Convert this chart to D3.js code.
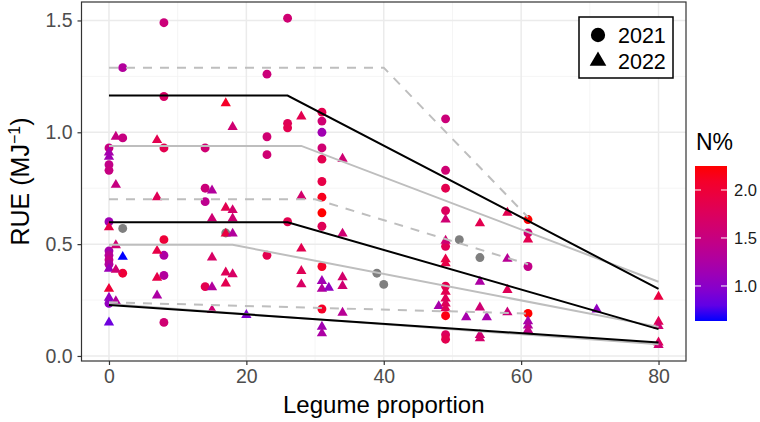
<!DOCTYPE html>
<html lang="en">
<head>
  <meta charset="UTF-8">
  <title>RUE vs legume proportion</title>
  <style>
    body { margin: 0; background: #fff; }
    svg { display: block; font-family: "Liberation Sans", Arial, Helvetica, sans-serif; }
    .grid-major { stroke: #ebebeb; stroke-width: 1.5; }
    .grid-minor { stroke: #f2f2f2; stroke-width: 0.8; }
    .tick-label { fill: #4d4d4d; font-size: 19.5px; }
    .title { fill: #000; font-size: 24px; }
  </style>
</head>
<body>
  <script src="https://d3js.org/d3.v7.min.js"></script>
  <svg id="chart" width="760" height="422"></svg>
  <script>
    // points: [legume %, RUE, N%] ; null N = grey (missing)
    const pts2021 = [
      [0, 0.93, 1.5], [0, 0.855, 1.45], [0, 0.83, 1.5], [0, 0.60, 1.15], [0, 0.47, 1.2],
      [0, 0.45, 1.35], [0, 0.43, 1.45], [0, 0.41, 1.3], [0, 0.235, 1.05],
      [2, 1.289, 1.3], [2, 0.975, 1.5], [2, 0.57, null], [2, 0.37, 2.0],
      [8, 1.49, 1.55], [8, 1.16, 1.7], [8, 0.93, 1.85], [8, 0.52, 2.0], [8, 0.45, 1.25],
      [8, 0.36, 1.3], [8, 0.15, 1.6],
      [14, 0.93, 1.6], [14, 0.75, 1.55], [14, 0.69, 1.4], [14, 0.31, 1.85],
      [17, 0.55, null],
      [23, 1.26, 1.55], [23, 0.98, 1.6], [23, 0.90, 1.6], [23, 0.45, 1.85],
      [26, 1.51, 1.6], [26, 1.04, 1.8], [26, 1.02, 1.85], [26, 0.60, 1.85],
      [31, 1.09, 1.85], [31, 1.05, 1.6], [31, 1.0, 1.15], [31, 0.93, 1.6], [31, 0.88, 1.85],
      [31, 0.78, 1.9], [31, 0.71, 2.15], [31, 0.64, 2.25], [31, 0.58, 1.8], [31, 0.40, 2.1],
      [31, 0.21, 2.1],
      [39, 0.37, null], [40, 0.32, null],
      [49, 1.06, 1.55], [49, 0.83, 1.6], [49, 0.75, 1.85], [49, 0.65, 1.75], [49, 0.49, 1.8],
      [49, 0.3125, 1.85], [49, 0.18, 2.2], [49, 0.095, 1.75], [49, 0.075, 1.85],
      [51, 0.52, null], [54, 0.44, null],
      [61, 0.61, 2.25], [61, 0.55, 1.6], [61, 0.40, 1.45], [61, 0.19, 2.25]
    ]
    const pts2022 = [
      [0, 0.91, 1.2], [0, 0.89, 1.15], [0, 0.575, 1.9], [0, 0.39, 1.1], [0, 0.30, 2.0],
      [0, 0.26, 1.05], [0, 0.15, 0.85],
      [1, 0.98, 1.5], [1, 0.765, 1.5], [1, 0.495, 1.6], [1, 0.385, 1.6], [1, 0.245, 1.3],
      [2, 0.443, 0.62],
      [7, 0.965, 1.85], [7, 0.71, 1.8], [7, 0.47, 1.9], [7, 0.35, 1.9], [7, 0.27, 1.25],
      [15, 0.74, 1.3], [15, 0.614, 1.6], [15, 0.44, 1.7], [15, 0.307, 1.3], [15, 0.205, 1.6],
      [17, 1.13, 2.1], [17, 0.663, 1.85], [17, 0.547, 1.95], [17, 0.373, 1.8], [17, 0.324, 1.85],
      [18, 1.024, 1.6], [18, 0.652, 1.65], [18, 0.615, 1.6], [18, 0.547, 1.3], [18, 0.365, 1.7],
      [20, 0.183, 0.95],
      [28, 1.071, 1.85], [28, 0.714, 1.65], [28, 0.48, 1.85], [28, 0.38, 1.8], [28, 0.32, 1.7],
      [31, 0.335, 1.15], [31, 0.30, 1.3], [31, 0.131, 1.15], [31, 0.101, 1.25],
      [32, 0.305, 1.05],
      [34, 0.882, 1.6], [34, 0.547, 1.6], [34, 0.352, 1.65], [34, 0.3125, 1.6], [34, 0.193, 1.35],
      [48, 0.223, 1.2],
      [49, 0.61, 1.6], [49, 0.515, 1.6], [49, 0.432, 1.9], [49, 0.414, 1.9], [49, 0.287, 1.85],
      [49, 0.257, 1.8], [49, 0.235, 1.75], [49, 0.213, 1.8],
      [52, 0.173, 1.2],
      [54, 0.593, 1.85], [54, 0.332, 1.25], [54, 0.217, 1.6], [54, 0.094, 1.6], [54, 0.079, 1.65],
      [55, 0.173, 1.2],
      [58, 0.64, 1.85], [58, 0.434, 1.35], [58, 0.295, 1.8], [58, 0.195, 1.55],
      [61, 0.521, 1.85], [61, 0.155, 1.2], [61, 0.136, 1.3], [61, 0.116, 1.45],
      [71, 0.208, 1.05],
      [80, 0.265, 1.95], [80, 0.153, 1.8], [80, 0.134, 1.6], [80, 0.06, 1.8], [80, 0.049, 1.6]
    ]

    // fitted segmented lines (legume %, RUE) : both years (black), 2022 (grey), 2021 (grey dashed)
    const fitBoth = [
      [[0, 1.164], [26, 1.164], [80, 0.30]],
      [[0, 0.598], [26, 0.598], [80, 0.12]],
      [[0, 0.228], [80, 0.06]]
    ]
    const fit2022 = [
      [[0, 0.939], [28, 0.939], [80, 0.332]],
      [[0, 0.497], [18, 0.497], [80, 0.13]],
      [[0, 0.232], [80, 0.052]]
    ]
    const fit2021 = [
      [[0, 1.289], [40, 1.289], [61, 0.62]],
      [[0, 0.701], [30, 0.701], [61, 0.41]],
      [[0, 0.24], [61, 0.19]]
    ]

    const xTicks = [0, 20, 40, 60, 80]
    const yTicks = [0, 0.5, 1.0, 1.5]
    const nTicks = [1.0, 1.5, 2.0]
    const nRange = [0.635, 2.25]
    const years = ['2021', '2022']

    const svg = d3.select('#chart')
    const panel = { left: 81.5, right: 686, top: 2, bottom: 361 }

    const x = d3.scaleLinear().domain([-4, 84]).range([panel.left, panel.right])
    const y = d3.scaleLinear().domain([-0.0225, 1.5825]).range([panel.bottom, panel.top])
    const color = d3.scaleLinear().domain(nRange).range(['#0000ff', '#ff0000'])
      .interpolate(d3.interpolateLab).clamp(true)

    // grid
    const g = svg.append('g')
    const xMinor = d3.range(10, 80, 20)
    const yMinor = [0.25, 0.75, 1.25]
    g.selectAll('.xmin').data(xMinor).enter().append('line')
      .attr('class', 'grid-minor')
      .attr('x1', d => x(d)).attr('x2', d => x(d))
      .attr('y1', panel.top).attr('y2', panel.bottom)
    g.selectAll('.ymin').data(yMinor).enter().append('line')
      .attr('class', 'grid-minor')
      .attr('y1', d => y(d)).attr('y2', d => y(d))
      .attr('x1', panel.left).attr('x2', panel.right)
    g.selectAll('.xmaj').data(xTicks).enter().append('line')
      .attr('class', 'grid-major')
      .attr('x1', d => x(d)).attr('x2', d => x(d))
      .attr('y1', panel.top).attr('y2', panel.bottom)
    g.selectAll('.ymaj').data(yTicks).enter().append('line')
      .attr('class', 'grid-major')
      .attr('y1', d => y(d)).attr('y2', d => y(d))
      .attr('x1', panel.left).attr('x2', panel.right)

    // points
    const circleSym = d3.symbol().type(d3.symbolCircle).size(62)
    const triSym = d3.symbol().type(d3.symbolTriangle).size(46)
    const fillOf = d => d[2] == null ? '#7f7f7f' : color(d[2])

    g.selectAll('.p21').data(pts2021).enter().append('path')
      .attr('d', circleSym)
      .attr('transform', d => `translate(${x(d[0])},${y(d[1])})`)
      .attr('fill', fillOf)
    g.selectAll('.p22').data(pts2022).enter().append('path')
      .attr('d', triSym)
      .attr('transform', d => `translate(${x(d[0])},${y(d[1])})`)
      .attr('fill', fillOf)

    // fitted lines
    const line = d3.line().x(d => x(d[0])).y(d => y(d[1]))
    g.selectAll('.f21').data(fit2021).enter().append('path')
      .attr('d', line).attr('fill', 'none')
      .attr('stroke', '#bebebe').attr('stroke-width', 2).attr('stroke-dasharray', '9,8')
    g.selectAll('.f22').data(fit2022).enter().append('path')
      .attr('d', line).attr('fill', 'none')
      .attr('stroke', '#bebebe').attr('stroke-width', 2)
    g.selectAll('.fb').data(fitBoth).enter().append('path')
      .attr('d', line).attr('fill', 'none')
      .attr('stroke', '#000').attr('stroke-width', 2)

    // panel border
    svg.append('rect')
      .attr('x', panel.left).attr('y', panel.top)
      .attr('width', panel.right - panel.left).attr('height', panel.bottom - panel.top)
      .attr('fill', 'none').attr('stroke', '#333').attr('stroke-width', 1.2)

    // axes
    const xAxis = svg.append('g').attr('transform', `translate(0,${panel.bottom})`)
      .call(d3.axisBottom(x).tickValues(xTicks).tickSize(4).tickPadding(4))
    const yAxis = svg.append('g').attr('transform', `translate(${panel.left},0)`)
      .call(d3.axisLeft(y).tickValues(yTicks).tickFormat(d3.format('.1f')).tickSize(4).tickPadding(5))
    for (let ax of [xAxis, yAxis]) {
      ax.attr('font-family', null).attr('font-size', null)
      ax.select('.domain').remove()
      ax.selectAll('line').attr('stroke', '#333').attr('stroke-width', 1.2)
      ax.selectAll('text').attr('class', 'tick-label').attr('fill', null)
    }

    svg.append('text').attr('class', 'title')
      .attr('x', (panel.left + panel.right) / 2).attr('y', 413)
      .attr('text-anchor', 'middle')
      .text('Legume proportion')
    const yt = svg.append('text').attr('class', 'title')
      .attr('transform', `translate(29,${(panel.top + panel.bottom) / 2}) rotate(-90)`)
      .attr('text-anchor', 'middle').style('font-size', '25px')
    yt.append('tspan').text('RUE (MJ')
    yt.append('tspan').attr('dy', -9).attr('font-size', 16).text('\u22121')
    yt.append('tspan').attr('dy', 9).text(')')

    // shape legend
    const leg = svg.append('g')
    leg.append('rect').attr('x', 579).attr('y', 17).attr('width', 94).attr('height', 61)
      .attr('fill', '#fff').attr('stroke', '#000').attr('stroke-width', 1.5)
    const legSyms = [d3.symbol().type(d3.symbolCircle).size(160), d3.symbol().type(d3.symbolTriangle).size(120)]
    years.forEach((yr, i) => {
      leg.append('path').attr('d', legSyms[i])
        .attr('transform', `translate(598,${35 + i * 26})`).attr('fill', '#000')
      leg.append('text').attr('x', 618).attr('y', 43 + i * 26)
        .attr('font-size', 21.5).attr('fill', '#000').text(yr)
    })

    // colour bar
    const cb = { x: 695, w: 32, top: 166, bottom: 321 }
    const cy = d3.scaleLinear().domain(nRange).range([cb.bottom, cb.top])
    const grad = svg.append('defs').append('linearGradient')
      .attr('id', 'ngrad').attr('x1', 0).attr('y1', 1).attr('x2', 0).attr('y2', 0)
    d3.range(0, 1.0001, 0.1).forEach(t => {
      grad.append('stop').attr('offset', t).attr('stop-color', color(nRange[0] + t * (nRange[1] - nRange[0])))
    })
    svg.append('rect').attr('x', cb.x).attr('y', cb.top).attr('width', cb.w)
      .attr('height', cb.bottom - cb.top).attr('fill', 'url(#ngrad)')
    nTicks.forEach(v => {
      svg.append('line').attr('x1', cb.x).attr('x2', cb.x + 6).attr('y1', cy(v)).attr('y2', cy(v))
        .attr('stroke', '#fff').attr('stroke-width', 1)
      svg.append('line').attr('x1', cb.x + cb.w - 6).attr('x2', cb.x + cb.w).attr('y1', cy(v)).attr('y2', cy(v))
        .attr('stroke', '#fff').attr('stroke-width', 1)
      svg.append('text').attr('x', 734).attr('y', cy(v)).attr('dy', '0.35em')
        .attr('font-size', 16.5).attr('fill', '#1a1a1a').text(d3.format('.1f')(v))
    })
    svg.append('text').attr('x', 696).attr('y', 150).attr('font-size', 23).attr('fill', '#000').text('N%')
  </script>
</body>
</html>
